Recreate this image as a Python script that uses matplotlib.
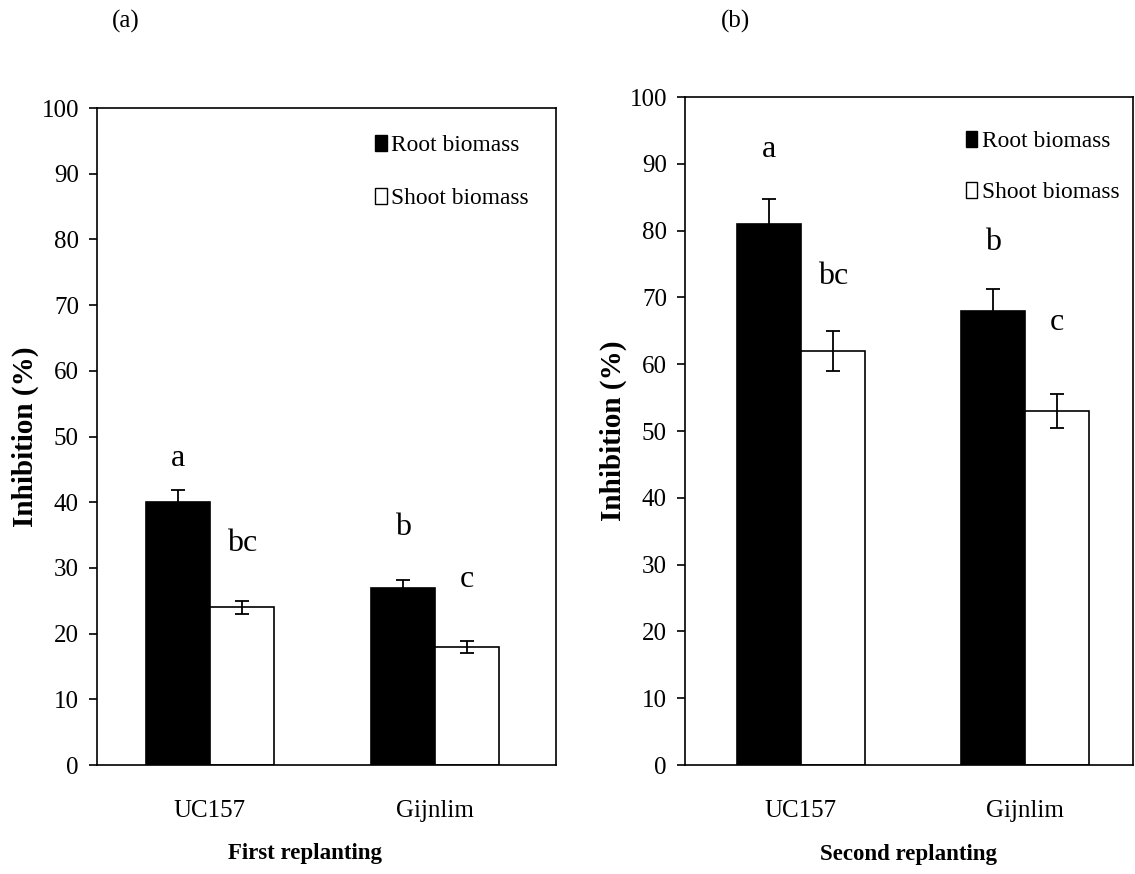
import matplotlib.pyplot as plt
from matplotlib.patches import Patch

plt.rcParams["font.family"] = ["Liberation Serif", "DejaVu Serif"]

# ---- data ----
cultivars = ["UC157", "Gijnlim"]
series = ["Root biomass", "Shoot biomass"]

first_root = [40, 27]
first_root_err = [1.8, 1.2]
first_shoot = [24, 18]
first_shoot_err = [1.0, 0.9]
first_letters_root = ["a", "b"]
first_letters_shoot = ["bc", "c"]
first_letter_y_root = [44.5, 34.0]
first_letter_y_shoot = [31.5, 26.0]

second_root = [81, 68]
second_root_err = [3.7, 3.3]
second_shoot = [62, 53]
second_shoot_err = [3.0, 2.6]
second_letters_root = ["a", "b"]
second_letters_shoot = ["bc", "c"]
second_letter_y_root = [90.0, 76.0]
second_letter_y_shoot = [71.0, 64.0]

panels = [
    dict(rect=[0.0855, 0.1247, 0.4044, 0.7517], xlim=(-0.502, 1.538),
         root=first_root, root_err=first_root_err,
         shoot=first_shoot, shoot_err=first_shoot_err,
         lr=first_letters_root, ls=first_letters_shoot,
         lyr=first_letter_y_root, lys=first_letter_y_shoot,
         xlabel="First replanting", xlabel_x=0.453, tag="(a)", tag_x=0.111,
         leg=(0.575, 0.98), leg_sp=1.35),
    dict(rect=[0.6035, 0.1247, 0.3947, 0.7643], xlim=(-0.518, 1.482),
         root=second_root, root_err=second_root_err,
         shoot=second_shoot, shoot_err=second_shoot_err,
         lr=second_letters_root, ls=second_letters_shoot,
         lyr=second_letter_y_root, lys=second_letter_y_shoot,
         xlabel="Second replanting", xlabel_x=0.5, tag="(b)", tag_x=0.648,
         leg=(0.595, 0.97), leg_sp=1.25),
]

fig = plt.figure(figsize=(11.35, 8.74), dpi=100)
w = 0.284
x = list(range(len(cultivars)))

for p in panels:
    ax = fig.add_axes(p["rect"])
    xr = [i - w / 2 for i in x]
    xs = [i + w / 2 for i in x]
    ax.bar(xr, p["root"], width=w, color="black", edgecolor="black", linewidth=1.2)
    ax.bar(xs, p["shoot"], width=w, color="white", edgecolor="black", linewidth=1.2)
    ax.errorbar(xr, p["root"], yerr=p["root_err"], fmt="none", ecolor="black",
                elinewidth=1.3, capsize=5, capthick=1.3)
    ax.errorbar(xs, p["shoot"], yerr=p["shoot_err"], fmt="none", ecolor="black",
                elinewidth=1.3, capsize=5, capthick=1.3)
    for i in x:
        ax.text(xr[i], p["lyr"][i], p["lr"][i], ha="center", va="bottom", fontsize=23)
        ax.text(xs[i], p["lys"][i], p["ls"][i], ha="center", va="bottom", fontsize=23)

    ax.set_xlim(*p["xlim"])
    ax.set_ylim(0, 100)
    ax.set_yticks(range(0, 101, 10))
    ax.set_xticks(x)
    ax.set_xticklabels(cultivars)
    ax.tick_params(axis="y", direction="out", length=6, width=1.2, labelsize=18, pad=7)
    ax.tick_params(axis="x", length=0, labelsize=18, pad=25)
    for s in ax.spines.values():
        s.set_linewidth(1.2)
    ax.set_ylabel("Inhibition (%)", fontsize=21, fontweight="bold", labelpad=2)
    ax.set_xlabel(p["xlabel"], fontsize=16.5, fontweight="bold")
    ax.xaxis.set_label_coords(p["xlabel_x"], -0.118)

    handles = [Patch(facecolor="black", edgecolor="black"),
               Patch(facecolor="white", edgecolor="black")]
    ax.legend(handles, series, loc="upper left", bbox_to_anchor=p["leg"],
              frameon=False, fontsize=16.8, handlelength=0.5, handleheight=0.7,
              handletextpad=0.2, labelspacing=p["leg_sp"], borderaxespad=0.2)

    fig.text(p["tag_x"], 0.975, p["tag"], ha="center", va="center", fontsize=18)

fig.savefig("out.png", dpi=100)
